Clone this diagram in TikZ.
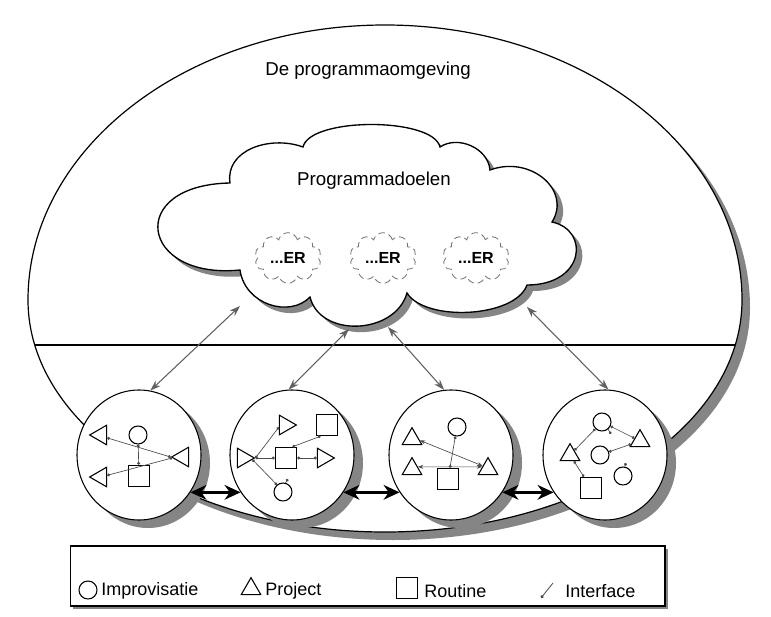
\documentclass[tikz,border=0pt]{standalone}
\usepackage{fontspec}
\setmainfont{Liberation Sans}
\usetikzlibrary{arrows.meta,shapes.geometric,shapes.symbols}
\colorlet{shadowgray}{black!48}
\colorlet{linkgray}{black!70}

% outer environment: egg shape, flatter at the bottom
\newcommand{\outershape}[1]{%
  \path[#1] (28,300)
    arc[start angle=180, end angle=0, x radius=267.75pt, y radius=206.25pt]
    arc[start angle=0, end angle=-180, x radius=267.75pt, y radius=174pt] -- cycle;}

% the big cloud of programme goals
\newcommand{\cloudshape}[1]{%
  \path[#1] (303,147)
    .. controls (310,117) and (433,117) .. (440,147)
    .. controls (458,135) and (488,148) .. (490,170)
    .. controls (530,155) and (572,190) .. (552,222)
    .. controls (590,230) and (585,285) .. (527,285)
    .. controls (515,318) and (425,322) .. (407,293)
    .. controls (395,335) and (320,338) .. (310,297)
    .. controls (290,318) and (245,305) .. (240,270)
    .. controls (140,280) and (125,185) .. (230,183)
    .. controls (225,150) and (270,135) .. (303,147) -- cycle;}

\begin{document}
\begin{tikzpicture}[x=0.75pt,y=-0.75pt,
  font=\fontsize{14}{16}\selectfont,
  bigc/.style={ellipse, draw, fill=white, line width=0.8pt,
    minimum width=93pt, minimum height=97.5pt, inner sep=0pt},
  bigsh/.style={ellipse, fill=shadowgray,
    minimum width=93pt, minimum height=97.5pt, inner sep=0pt},
  tri/.style={regular polygon, regular polygon sides=3, draw, line width=0.8pt,
    minimum size=17pt, inner sep=0pt},
  triL/.style={tri, shape border rotate=90},
  triR/.style={tri, shape border rotate=-90},
  triU/.style={tri},
  sq/.style={rectangle, draw, line width=0.8pt, minimum size=16pt, inner sep=0pt},
  smc/.style={circle, draw, line width=0.8pt, minimum size=13.5pt, inner sep=0pt},
  link/.style={draw=linkgray, line width=0.5pt,
    {Circle[length=2.2pt]}-{Circle[length=2.2pt]}},
  stub/.style={draw=linkgray, line width=0.5pt, -{Circle[length=2.2pt]}},
  larrow/.style={draw=linkgray, line width=0.5pt,
    {Stealth[length=4pt,width=3pt]}-{Stealth[length=4pt,width=3pt]}},
  garrow/.style={draw=black!62, line width=0.8pt,
    {Stealth[length=8pt,width=5.5pt]}-{Stealth[length=8pt,width=5.5pt]}},
  barrow/.style={draw=black, line width=2.4pt,
    {Stealth[length=12pt,width=11pt]}-{Stealth[length=12pt,width=11pt]}},
  ercloud/.style={cloud, cloud puffs=10, aspect=1.35, draw=black!55, line width=0.6pt,
    dash pattern=on 5pt off 3pt, minimum width=50pt, minimum height=38pt,
    inner sep=0pt, font=\bfseries\fontsize{12}{14}\selectfont},
  legbox/.style={rectangle, draw, fill=white, line width=1pt,
    minimum width=446pt, minimum height=45pt, inner sep=0pt},
  legsh/.style={rectangle, fill=shadowgray,
    minimum width=446pt, minimum height=45pt, inner sep=0pt},
  lbl/.style={anchor=west, inner sep=0pt, font=\fontsize{13.5}{15}\selectfont}
]
\useasboundingbox (0,0) rectangle (771,617);
\fill[white] (0,0) rectangle (771,617);

% environment
\outershape{fill=shadowgray, shift={(8,8)}}
\outershape{fill=white, draw=black, line width=0.9pt}
\node (title) at (368,71) {De programmaomgeving};

% boundary between goals and organisation
\coordinate (hl) at (35,345);
\coordinate (hr) at (735,345);
\draw[line width=1.2pt] (hl) -- (hr);

% goals cloud
\cloudshape{fill=shadowgray, shift={(6,6)}}
\cloudshape{fill=white, draw=black, line width=1pt}
\node (goal) at (374,181) {Programmadoelen};
\node[ercloud] (er1) at (288,258) {...ER};
\node[ercloud] (er2) at (383,258) {...ER};
\node[ercloud] (er3) at (476,258) {...ER};

% programme units
\node[bigsh] (sh1) at (148,463) {};
\node[bigsh] (sh2) at (301,463) {};
\node[bigsh] (sh3) at (460,463) {};
\node[bigsh] (sh4) at (614,463) {};
\node[bigc] (c1) at (139,455) {};
\node[bigc] (c2) at (292,455) {};
\node[bigc] (c3) at (451,455) {};
\node[bigc] (c4) at (605,455) {};

% links to the goals
\coordinate (g1) at (240,306);
\coordinate (g2) at (349,329);
\coordinate (g3) at (388,327);
\coordinate (g4) at (527,307);
\draw[garrow] (c1.80) -- (g1);
\draw[garrow] (c2.93) -- (g2);
\draw[garrow] (c3.96) -- (g3);
\draw[garrow] (c4.87) -- (g4);

% links between units
\draw[barrow] (c1.-36) -- (c2.-144);
\draw[barrow] (c2.-36) -- (c3.-144);
\draw[barrow] (c3.-36) -- (c4.-144);

% unit 1
\node[triL] (a1) at (101,435) {};
\node[smc]  (a2) at (138,435) {};
\node[triL] (a3) at (183,457) {};
\node[triL] (a4) at (101,477) {};
\node[sq]   (a5) at (139,476) {};
\draw[link] (a1.-25) -- (a3.180);
\draw[link] (a4.15) -- (a3.185);
\draw[link] (a2) -- (a5);

% unit 2
\node[triR] (b1) at (243,458) {};
\node[triR] (b2) at (285,425) {};
\node[sq]   (b3) at (327,425) {};
\node[sq]   (b4) at (286,458) {};
\node[triR] (b5) at (323,458) {};
\node[smc]  (b6) at (283,492) {};
\draw[link] (b1.0) -- (b2.200);
\draw[link] (b1.0) -- (b4);
\draw[link] (b1.-10) -- (b6.130);
\draw[link] (b4) -- (b5);
\draw[link] (b4.60) -- (b3.240);
\coordinate (b6t) at (288,479);
\draw[stub] (b6.75) -- (b6t);

% unit 3
\node[smc]  (d1) at (457,427) {};
\node[triU] (d2) at (412,439) {};
\node[triU] (d3) at (412,469) {};
\node[triU] (d4) at (488,469) {};
\node[sq]   (d5) at (448,479) {};
\draw[larrow] (d2.-10) -- (d4.150);
\draw[larrow] (d3.20) -- (d4.160);
\draw[link] (d1) -- (d5);

% unit 4
\node[smc]  (e1) at (602,422) {};
\node[triU] (e2) at (640,441) {};
\node[smc]  (e3) at (600,455) {};
\node[triU] (e4) at (570,455) {};
\node[smc]  (e5) at (623,476) {};
\node[sq]   (e6) at (591,488) {};
\draw[link] (e1) -- (e4);
\draw[link] (e1) -- (e2);
\draw[link] (e3) -- (e2);
\draw[link] (e4) -- (e6);
\coordinate (e1t) at (611,434);
\draw[stub] (e1.-50) -- (e1t);
\coordinate (e5t) at (626,463);
\draw[stub] (e5.80) -- (e5t);

% legend
\node[legsh] (legs) at (370.5,579) {};
\node[legbox] (leg) at (367.5,576) {};
\node[smc] (lo) at (88,590) {};
\node[lbl] (lt1) at (101,591) {Improvisatie};
\node[triU] (ltr) at (251,589) {};
\node[lbl] (lt2) at (265,591) {Project};
\node[sq] (lsq) at (407,588) {};
\node[lbl] (lt3) at (424,591) {Routine};
\coordinate (li1) at (541,598);
\coordinate (li2) at (553,583);
\draw[draw=linkgray, line width=0.6pt, {Circle[length=2.5pt]}-] (li1) -- (li2);
\node[lbl] (lt4) at (565,591) {Interface};
\end{tikzpicture}
\end{document}
